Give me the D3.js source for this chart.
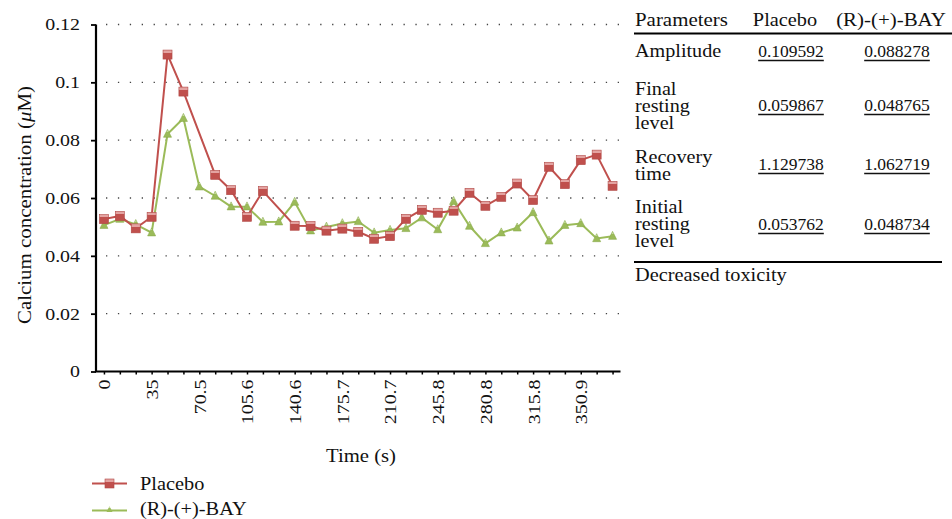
<!DOCTYPE html>
<html>
<head>
<meta charset="utf-8">
<script src="https://cdn.jsdelivr.net/npm/d3@7"></script>
<style>
  html, body { margin: 0; padding: 0; background: #fff; }
  svg text { font-family: "Liberation Serif", "Times New Roman", serif; fill: #111; }
</style>
</head>
<body>
<div id="chart"></div>
<script>
// ---- Data ----
const times = ["0", "11.7", "23.4", "35", "46.8", "58.5", "70.5", "82.2", "93.9", "105.6", "117.3",
  "129", "140.6", "152.3", "164", "175.7", "187.4", "199.1", "210.7", "222.4", "234.1", "245.8",
  "257.5", "269.1", "280.8", "292.5", "304.2", "315.8", "327.5", "339.2", "350.9", "362.6", "374.3"];
const shownTimes = ["0", "35", "70.5", "105.6", "140.6", "175.7", "210.7", "245.8", "280.8", "315.8", "350.9"];
const yTicks = [0, 0.02, 0.04, 0.06, 0.08, 0.1, 0.12];

const placebo = [0.0527, 0.0538, 0.0495, 0.0535, 0.1096, 0.0968, null, 0.0680, 0.0627, 0.0535, 0.0624,
  null, 0.0504, 0.0503, 0.0487, 0.0494, 0.0483, 0.0459, 0.0468, 0.0528, 0.0559, 0.0549,
  0.0556, 0.0618, 0.0573, 0.0604, 0.0650, 0.0593, 0.0708, 0.0648, 0.0731, 0.0750, 0.0642];
const bay = [0.0506, 0.0527, 0.0509, 0.0480, 0.0821, 0.0876, 0.0639, 0.0607, 0.0570, 0.0570, 0.0517,
  0.0518, 0.0586, 0.0487, 0.0500, 0.0512, 0.0519, 0.0480, 0.0489, 0.0495, 0.0532, 0.0491,
  0.0589, 0.0503, 0.0443, 0.0480, 0.0497, 0.0550, 0.0452, 0.0506, 0.0512, 0.0460, 0.0468];

const tableCols = ["Parameters", "Placebo", "(R)-(+)-BAY"];
const tableLabels = [["Amplitude"], ["Final", "resting", "level"], ["Recovery", "time"], ["Initial", "resting", "level"]];
const tablePlacebo = ["0.109592", "0.059867", "1.129738", "0.053762"];
const tableBay = ["0.088278", "0.048765", "1.062719", "0.048734"];
const tableNote = "Decreased toxicity";

const RED = "#c0504d", GREEN = "#9bbb59";
const SX = 1.07;      // the source font runs a bit wider than Liberation Serif
const TICK_SX = 1.17;

const W = 952, H = 519;
const svg = d3.select("#chart").append("svg").attr("width", W).attr("height", H);

// marker gradients (Excel-style highlight on top)
const defs = svg.append("defs");
function grad(id, light, base) {
  const g = defs.append("linearGradient").attr("id", id)
    .attr("x1", 0).attr("x2", 0).attr("y1", 0).attr("y2", 1);
  g.append("stop").attr("offset", "0%").attr("stop-color", light);
  g.append("stop").attr("offset", "30%").attr("stop-color", light);
  g.append("stop").attr("offset", "31%").attr("stop-color", base);
  g.append("stop").attr("offset", "100%").attr("stop-color", base);
}
grad("gRed", "#e4a3a1", RED);
grad("gGreen", "#c7dca0", GREEN);

// text placed at (x,y), stretched horizontally by sx
function label(parent, x, y, str, size, anchor = "start", sx = SX) {
  return parent.append("text")
    .attr("transform", `translate(${x},${y}) scale(${sx},1)`)
    .attr("text-anchor", anchor).attr("font-size", size).text(str);
}

// ---- Scales ----
const x = d3.scalePoint().domain(times).range([96, 620.5]).padding(0.5);
const y = d3.scaleLinear().domain([0, 0.12]).range([371.5, 24.5]);

// ---- Grid ----
svg.append("g").selectAll("line")
  .data(yTicks.filter(d => d > 0))
  .join("line")
  .attr("x1", 106).attr("x2", 620.5)
  .attr("y1", d => y(d)).attr("y2", d => y(d))
  .attr("stroke", "#444").attr("stroke-width", 1.3)
  .attr("stroke-dasharray", "1.3,10.6");

// ---- Axes ----
const yAxis = svg.append("g").attr("transform", "translate(96,0)")
  .call(d3.axisLeft(y).tickValues(yTicks).tickSize(5)
    .tickFormat(d => d === 0 ? "0" : String(+d.toFixed(2))));
yAxis.select(".domain").attr("stroke", "#000").attr("stroke-width", 2.2).attr("d", "M0,24.5V371.5");
yAxis.selectAll(".tick line").attr("stroke", "#000").attr("stroke-width", 1.8);
yAxis.selectAll(".tick text")
  .attr("font-family", "Liberation Serif").attr("font-size", 17).attr("fill", "#111")
  .attr("transform", `scale(${TICK_SX},1)`).attr("x", -16 / TICK_SX);

const xAxis = svg.append("g").attr("transform", "translate(0,371.5)")
  .call(d3.axisBottom(x).tickSize(3).tickFormat(d => shownTimes.includes(d) ? d : ""));
xAxis.select(".domain").attr("stroke", "#000").attr("stroke-width", 2.2).attr("d", "M95,0H620.5");
xAxis.selectAll(".tick line").attr("stroke", "#000").attr("stroke-width", 1.5);
xAxis.selectAll(".tick text")
  .attr("font-family", "Liberation Serif").attr("font-size", 17).attr("fill", "#111")
  .attr("text-anchor", "end")
  .attr("transform", `rotate(-90) scale(${TICK_SX},1)`)
  .attr("x", -8 / TICK_SX).attr("y", 0).attr("dy", "0.35em");

// axis titles
svg.append("text")
  .attr("transform", "translate(31,205) rotate(-90) scale(1.1,1)")
  .attr("text-anchor", "middle").attr("font-size", 19)
  .call(t => {
    t.append("tspan").text("Calcium concentration (");
    t.append("tspan").attr("font-style", "italic").text("μ");
    t.append("tspan").text("M)");
  });
label(svg, 361, 462, "Time (s)", 19, "middle", 1.09);

// ---- Lines ----
function drawSeries(values, color) {
  const pts = values.map((v, i) => ({ t: times[i], v })).filter(d => d.v != null);
  svg.append("path").datum(pts)
    .attr("fill", "none").attr("stroke", color).attr("stroke-width", 2)
    .attr("d", d3.line().x(d => x(d.t)).y(d => y(d.v)));
  return pts;
}
const bayPts = drawSeries(bay, GREEN);
const plPts = drawSeries(placebo, RED);

function triangle(cx, cy, s) {
  return `M${cx},${cy - s * 0.6}L${cx + s / 2},${cy + s * 0.4}L${cx - s / 2},${cy + s * 0.4}Z`;
}
svg.append("g").selectAll("path").data(bayPts).join("path")
  .attr("d", d => triangle(x(d.t), y(d.v), 8))
  .attr("fill", "url(#gGreen)").attr("stroke", "#8aab4c").attr("stroke-width", 0.6);
svg.append("g").selectAll("rect").data(plPts).join("rect")
  .attr("x", d => x(d.t) - 4.5).attr("y", d => y(d.v) - 4.5)
  .attr("width", 9).attr("height", 9)
  .attr("fill", "url(#gRed)").attr("stroke", "#b04744").attr("stroke-width", 0.6);

// ---- Legend ----
const legend = svg.append("g");
[["Placebo", RED, "sq", 483.5, 490], ["(R)-(+)-BAY", GREEN, "tri", 510.5, 515]].forEach(([name, c, m, ly, ty]) => {
  legend.append("line").attr("x1", 92).attr("x2", 127).attr("y1", ly).attr("y2", ly)
    .attr("stroke", c).attr("stroke-width", 2);
  if (m === "sq") {
    legend.append("rect").attr("x", 105).attr("y", ly - 4.5).attr("width", 9).attr("height", 9)
      .attr("fill", "url(#gRed)").attr("stroke", "#b04744").attr("stroke-width", 0.6);
  } else {
    legend.append("path").attr("d", triangle(109.5, ly - 1, 6)).attr("fill", "url(#gGreen)");
  }
  label(legend, 140, ty, name, 19);
});

// ---- Parameter table ----
const tbl = svg.append("g");
label(tbl, 635, 26, tableCols[0], 19, "start", 1.1);
label(tbl, 785, 26, tableCols[1], 19, "middle", 1.07);
label(tbl, 891, 26, tableCols[2], 19, "middle", 1.1);
tbl.append("line").attr("x1", 634).attr("x2", 952).attr("y1", 33.5).attr("y2", 33.5)
  .attr("stroke", "#000").attr("stroke-width", 2);

const lineH = 17;
const rowTop = [57, 95, 163, 213];
const valY = [57, 111, 170, 230];
tableLabels.forEach((lines, r) => {
  const t = label(tbl, 635, rowTop[r], null, 18, "start", 1.12);
  lines.forEach((ln, k) => {
    t.append("tspan").attr("x", 0).attr("dy", k === 0 ? 0 : lineH).text(ln);
  });
  [[tablePlacebo[r], 791], [tableBay[r], 897]].forEach(([v, cx]) => {
    const vt = tbl.append("text").attr("x", cx).attr("y", valY[r])
      .attr("text-anchor", "middle").attr("font-size", 17.5).text(v);
    const w = vt.node().getComputedTextLength();
    tbl.append("line").attr("x1", cx - w / 2).attr("x2", cx + w / 2)
      .attr("y1", valY[r] + 3.5).attr("y2", valY[r] + 3.5)
      .attr("stroke", "#111").attr("stroke-width", 1.4);
  });
});
tbl.append("line").attr("x1", 634).attr("x2", 942).attr("y1", 262).attr("y2", 262)
  .attr("stroke", "#000").attr("stroke-width", 2);
label(tbl, 635, 281, tableNote, 19);
</script>
</body>
</html>
